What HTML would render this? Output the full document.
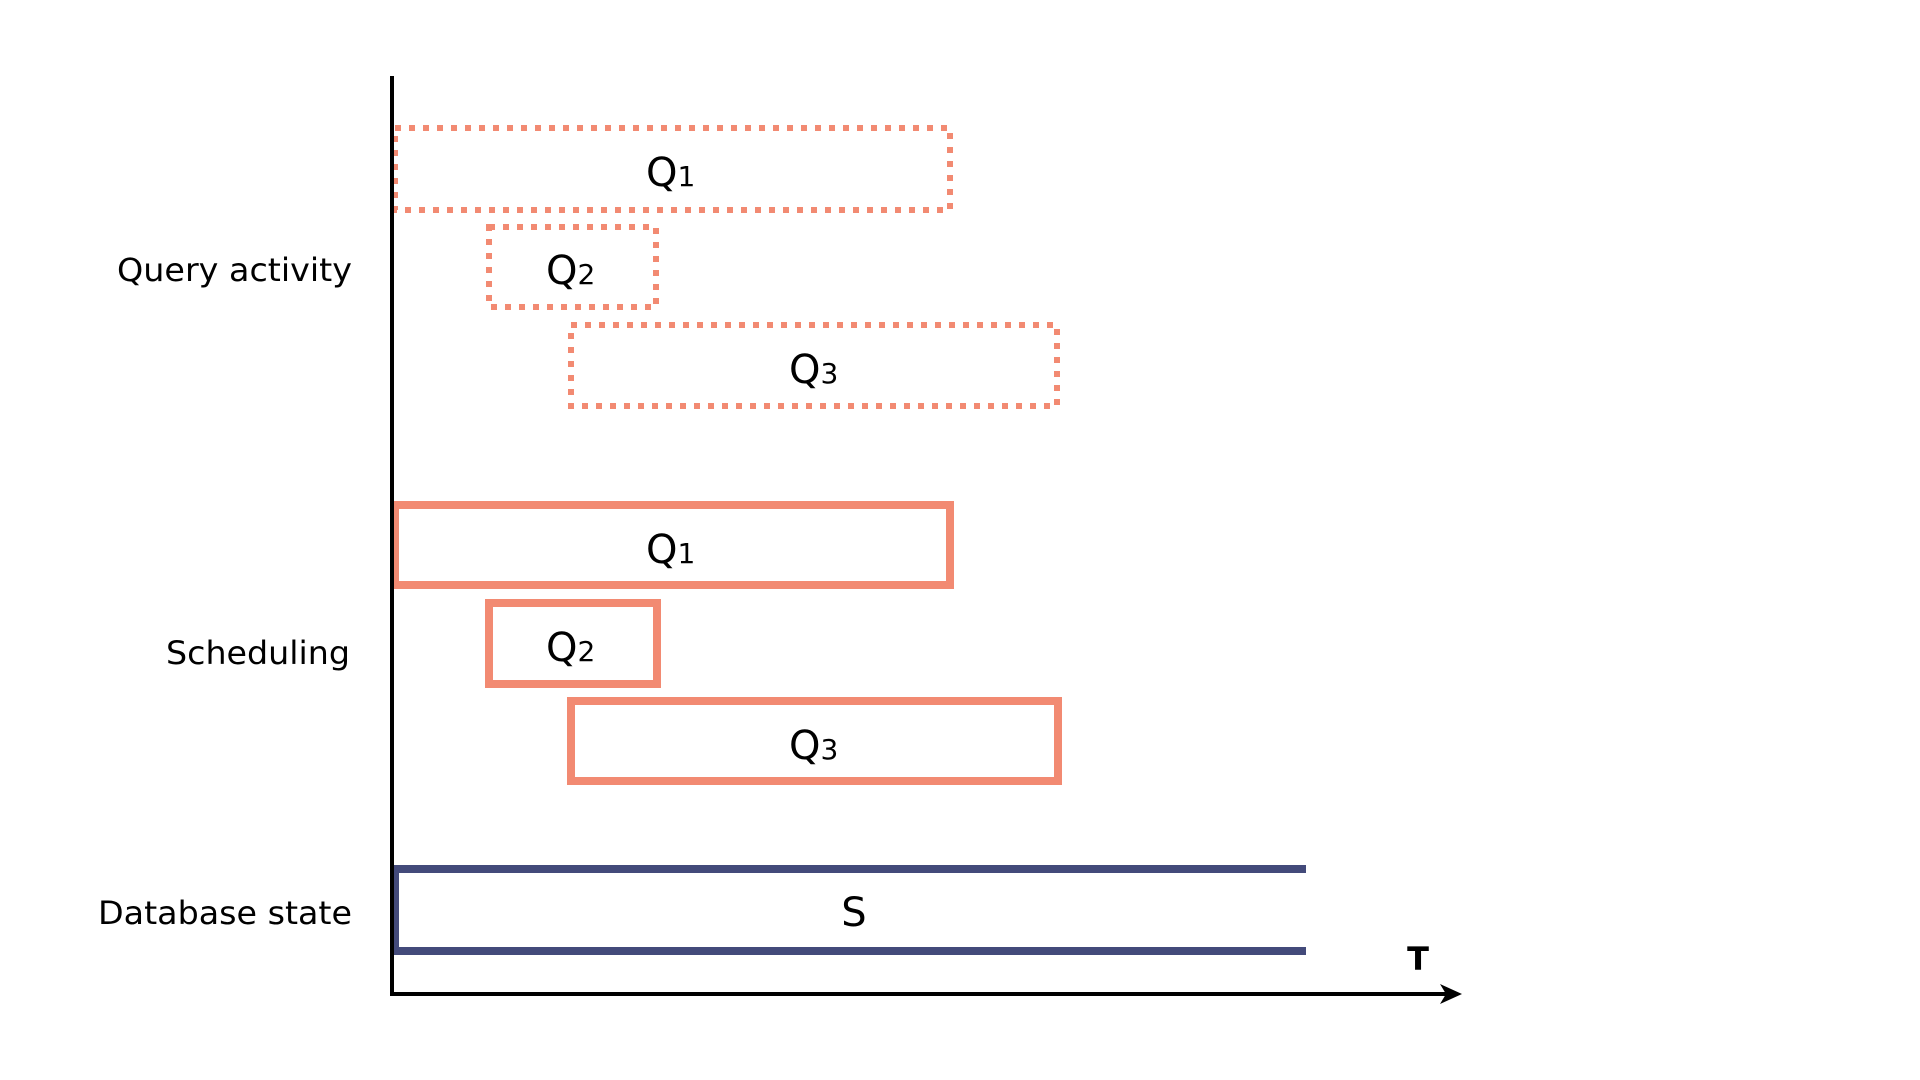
<!DOCTYPE html>
<html><head><meta charset="utf-8"><style>html,body{margin:0;padding:0;background:#fff;}svg{display:block;}</style></head>
<body>
<svg width="1920" height="1080" viewBox="0 0 1920 1080" xmlns="http://www.w3.org/2000/svg" font-family="'DejaVu Sans','Liberation Sans',sans-serif">
<rect width="1920" height="1080" fill="#fff"/>
<g fill="none" stroke="#f28a72" stroke-width="6" stroke-dasharray="6 8">
<rect x="395" y="128" width="555" height="82"/>
<rect x="489" y="227" width="167" height="80"/>
<rect x="571" y="325" width="486" height="81"/>
</g>
<g fill="none" stroke="#f28a72" stroke-width="8">
<rect x="395" y="505" width="555" height="80"/>
<rect x="489" y="603" width="168" height="81"/>
<rect x="571" y="701" width="487" height="80"/>
</g>
<path d="M1306 869 H395 V951 H1306" fill="none" stroke="#434a7a" stroke-width="8"/>
<line x1="392" y1="76" x2="392" y2="996" stroke="#000" stroke-width="4"/>
<line x1="390" y1="994" x2="1450" y2="994" stroke="#000" stroke-width="4"/>
<path d="M1440 984 L1462 994 L1440 1004 L1446 994 Z" fill="#000"/>
<g font-size="32" fill="#000">
<text x="117" y="281" textLength="235" lengthAdjust="spacingAndGlyphs">Query activity</text>
<text x="166" y="664" textLength="184" lengthAdjust="spacingAndGlyphs">Scheduling</text>
<text x="98" y="924" textLength="254" lengthAdjust="spacingAndGlyphs">Database state</text>
</g>
<g font-size="40" fill="#000">
<text x="646" y="186">Q<tspan font-size="28">1</tspan></text>
<text x="546" y="284">Q<tspan font-size="28">2</tspan></text>
<text x="789" y="383">Q<tspan font-size="28">3</tspan></text>
<text x="646" y="563">Q<tspan font-size="28">1</tspan></text>
<text x="546" y="661">Q<tspan font-size="28">2</tspan></text>
<text x="789" y="759">Q<tspan font-size="28">3</tspan></text>
<text x="854" y="926" text-anchor="middle">S</text>
</g>
<text x="1418" y="970" font-size="32" font-weight="bold" text-anchor="middle" fill="#000">T</text>
</svg>
</body></html>
